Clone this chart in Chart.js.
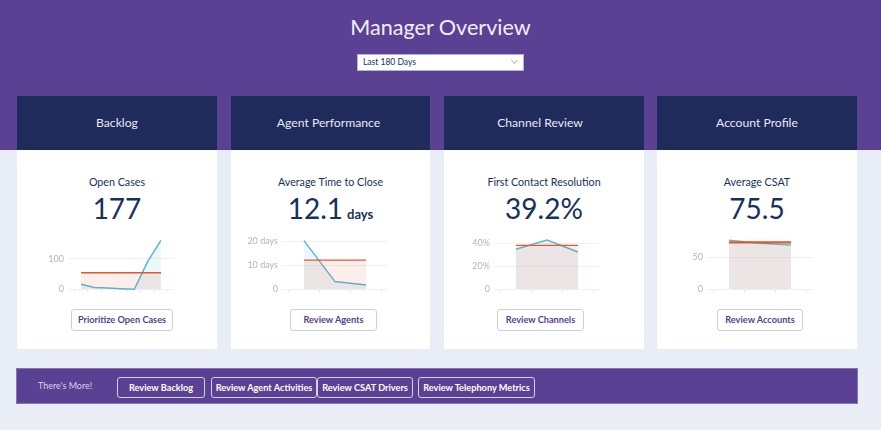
<!DOCTYPE html>
<html>
<head>
  <title>Manager Overview</title>
  <meta charset="utf-8">
  <script src="https://cdn.jsdelivr.net/npm/chart.js"></script>
  <style>
    html, body { margin: 0; padding: 0; }
    body { width: 881px; height: 430px; position: relative; overflow: hidden; background: #e8edf6; font-family: Lato, "Open Sans", sans-serif; color: #16325c; }
    .top { position: absolute; left: 0; top: 0; width: 881px; height: 150px; background: #5a4194; }
    h1 { position: absolute; left: 0; top: 11px; width: 881px; margin: 0; text-align: center; font-size: 21.6px; line-height: 32px; font-weight: 400; color: #f1eef8; }
    .select { position: absolute; left: 357px; top: 54px; width: 165px; height: 15px; background: #fff; border: 1px solid #a9b8d4; font-size: 8.5px; line-height: 15px; color: #16325c; }
    .select span { margin-left: 5px; }
    .select i { position: absolute; right: 6px; top: 3px; width: 4px; height: 4px; border-right: 1px solid #b4bcc8; border-bottom: 1px solid #b4bcc8; transform: rotate(45deg); }
    .head { position: absolute; top: 96px; height: 54px; line-height: 53px; background: #1e2b5b; color: #e8eaf3; text-align: center; font-size: 12.2px; box-sizing: border-box; }
    .card { position: absolute; top: 150px; height: 199px; background: #fff; text-align: center; }
    .card .label { position: absolute; left: 0; right: 0; top: 25px; font-size: 10.7px; line-height: 14px; }
    .card .value { position: absolute; left: 0; right: 0; top: 40px; font-size: 28px; line-height: 36px; }
    .card .value small { font-size: 13px; font-weight: 700; margin-left: 4px; }
    canvas { position: absolute; top: 230px; }
    .btn { position: absolute; box-sizing: border-box; text-align: center; border-radius: 3px; font-weight: 700; font-size: 9.2px; white-space: nowrap; }
    .btn.card-btn { top: 309px; height: 22px; line-height: 20px; background: #fff; border: 1px solid #c5d3e2; color: #54428f; }
    .bar { position: absolute; left: 16px; top: 368px; width: 840px; height: 34px; background: #5a4194; border: 1px solid #8474b4; }
    .bar span { position: absolute; left: 21px; top: 0; line-height: 34px; font-size: 9px; color: #d8d3e8; }
    .btn.bar-btn { top: 377px; height: 21px; line-height: 19px; border: 1px solid #d5d0e6; color: #fff; }
  </style>
</head>
<body>
  <div class="top"></div>
  <h1>Manager Overview</h1>
  <div class="select"><span>Last 180 Days</span><i></i></div>

  <div class="bar"><span>There's More!</span></div>
  <div class="btn bar-btn" style="left:117px;width:88px">Review Backlog</div>
  <div class="btn bar-btn" style="left:211px;width:106px">Review Agent Activities</div>
  <div class="btn bar-btn" style="left:317px;width:96px">Review CSAT Drivers</div>
  <div class="btn bar-btn" style="left:418px;width:117px">Review Telephony Metrics</div>

  <script>
    // Paineis
    const panels = [
      {
        title: 'Backlog', titlePad: 0, label: 'Open Cases', value: '177', left: 17, width: 200, plotLeft: 68,
        button: 'Prioritize Open Cases', btnLeft: 71, btnWidth: 102,
        values: [16, 5, 3, 1, -1, 91, 162], target: 54, targetWidth: 1.3,
        yMax: 165, yTicks: [0, 100], suffix: ''
      },
      {
        title: 'Agent Performance', titlePad: 4, label: 'Average Time to Close', value: '12.1<small>days</small>', left: 231, width: 199, plotLeft: 282,
        button: 'Review Agents', btnLeft: 290, btnWidth: 87,
        values: [20.3, 3.1, 1.7], target: 12.1, targetWidth: 1.3,
        yMax: 20.8, yTicks: [0, 10, 20], suffix: ' days'
      },
      {
        title: 'Channel Review', titlePad: 8, label: 'First Contact Resolution', value: '39.2%', left: 444, width: 200, plotLeft: 494,
        button: 'Review Channels', btnLeft: 497, btnWidth: 87,
        values: [34.8, 42.9, 32.5], target: 38.3, targetWidth: 1.3,
        yMax: 43.5, yTicks: [0, 20, 40], suffix: '%'
      },
      {
        title: 'Account Profile', titlePad: 0, label: 'Average CSAT', value: '75.5', left: 657, width: 200, plotLeft: 707,
        button: 'Review Accounts', btnLeft: 717, btnWidth: 86,
        values: [76.8, 72, 69], target: 73.2, targetWidth: 2.2,
        yMax: 78, yTicks: [0, 50], suffix: ''
      }
    ];

    panels.forEach(p => {
      document.body.insertAdjacentHTML('beforeend', `
        <div class="head" style="left:${p.left}px;width:${p.width}px;padding-right:${p.titlePad}px">${p.title}</div>
        <div class="card" style="left:${p.left}px;width:${p.width}px">
          <div class="label">${p.label}</div>
          <div class="value">${p.value}</div>
        </div>
        <div class="btn card-btn" style="left:${p.btnLeft}px;width:${p.btnWidth}px">${p.button}</div>
      `);

      const canvas = document.createElement('canvas');
      canvas.style.left = (p.plotLeft - 48) + 'px';
      document.body.appendChild(canvas);
      canvas.width = 160;
      canvas.height = 70;
      canvas.style.width = '160px';
      canvas.style.height = '70px';

      const n = p.values.length;
      const pad = 0.5 + n * 0.0686;
      const xTicks = [];
      for (let i = 0; i <= n; i++) xTicks.push(i - 0.5);

      new Chart(canvas, {
        type: 'line',
        data: {
          datasets: [
            {
              label: 'Target',
              data: p.values.map((v, i) => ({ x: i, y: p.target })),
              borderColor: '#e0582f',
              backgroundColor: 'rgba(224,88,47,0.1)',
              borderWidth: p.targetWidth,
              pointRadius: 0,
              fill: 'origin'
            },
            {
              label: 'Actual',
              data: p.values.map((v, i) => ({ x: i, y: v })),
              borderColor: '#58b7d6',
              backgroundColor: 'rgba(88,183,214,0.11)',
              borderWidth: 1.5,
              pointRadius: 0,
              fill: 'origin',
              clip: false
            }
          ]
        },
        options: {
          responsive: false,
          animation: false,
          layout: { padding: { top: 9, right: 6 } },
          plugins: { legend: { display: false }, tooltip: { enabled: false } },
          scales: {
            x: {
              type: 'linear',
              min: -pad,
              max: n - 1 + pad,
              afterBuildTicks: s => { s.ticks = xTicks.map(v => ({ value: v })); },
              afterFit: s => { s.height = 11; },
              ticks: { display: false },
              border: { display: false },
              grid: { drawOnChartArea: false, color: '#e6e6e6', tickLength: 3 }
            },
            y: {
              min: 0,
              max: p.yMax,
              afterBuildTicks: s => { s.ticks = p.yTicks.map(v => ({ value: v })); },
              afterFit: s => { s.width = 48; },
              ticks: {
                color: '#b4b4b4',
                font: { family: 'Lato', size: 9 },
                padding: 4,
                callback: v => v === 0 ? '0' : v + p.suffix
              },
              border: { display: false },
              grid: { color: '#f0f0f0', drawTicks: false }
            }
          }
        }
      });
    });
  </script>
</body>
</html>
